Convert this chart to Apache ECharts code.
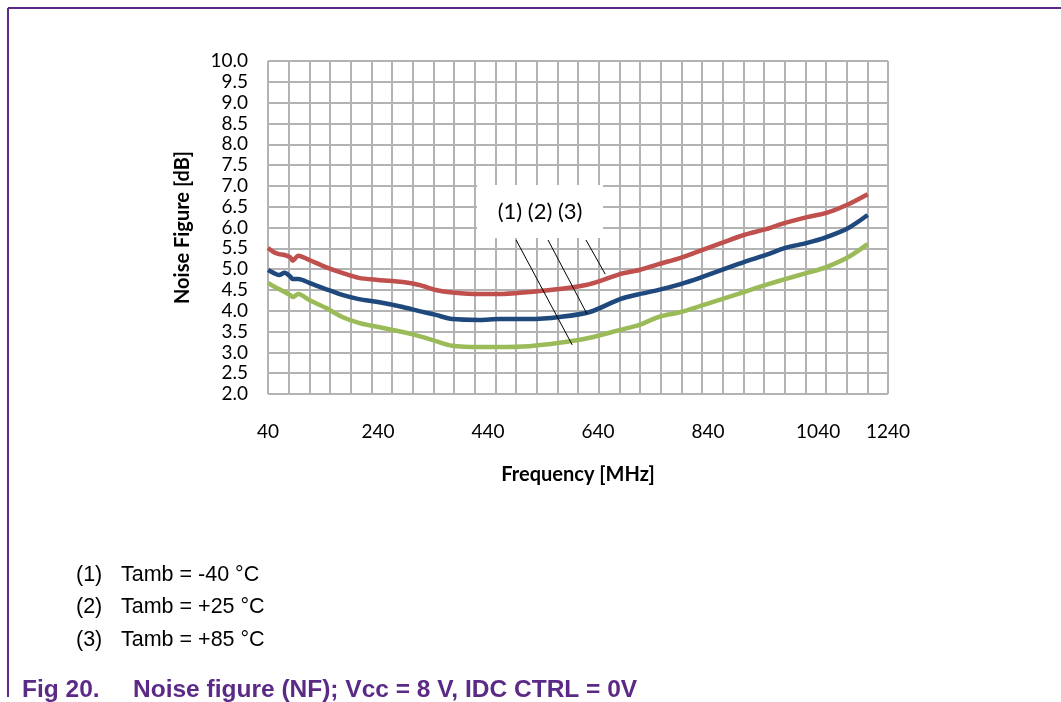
<!DOCTYPE html>
<html>
<head>
<meta charset="utf-8">
<script src="https://cdn.jsdelivr.net/npm/echarts@6/dist/echarts.min.js"></script>
<style>
html,body{margin:0;padding:0;background:#fff;}
#chart{width:1061px;height:702px;}
</style>
</head>
<body>
<div id="chart"></div>
<script>
// Frequency points (MHz, as read against the printed axis labels)
const FREQ = [40, 50, 60, 70, 80, 85, 95, 115, 145, 175, 205, 240, 285, 315, 345, 375, 425, 460, 515, 570, 625, 680, 715, 750, 790, 825, 865, 905, 945, 980, 1020, 1055, 1095, 1130];
// Noise figure (dB)
const NF_M40 = [4.67, 4.59, 4.52, 4.45, 4.38, 4.33, 4.40, 4.26, 4.07, 3.85, 3.71, 3.61, 3.49, 3.39, 3.27, 3.16, 3.13, 3.13, 3.15, 3.23, 3.35, 3.54, 3.66, 3.85, 3.97, 4.11, 4.28, 4.45, 4.62, 4.76, 4.91, 5.05, 5.29, 5.60];
const NF_P25 = [4.98, 4.91, 4.86, 4.91, 4.83, 4.76, 4.76, 4.67, 4.52, 4.38, 4.28, 4.21, 4.09, 3.99, 3.90, 3.80, 3.78, 3.80, 3.80, 3.85, 3.97, 4.28, 4.40, 4.50, 4.64, 4.79, 4.98, 5.17, 5.34, 5.51, 5.63, 5.77, 5.99, 6.30];
const NF_P85 = [5.51, 5.41, 5.36, 5.34, 5.29, 5.20, 5.32, 5.22, 5.05, 4.91, 4.79, 4.74, 4.69, 4.62, 4.50, 4.44, 4.40, 4.40, 4.45, 4.52, 4.64, 4.88, 4.98, 5.12, 5.27, 5.44, 5.63, 5.82, 5.96, 6.11, 6.25, 6.35, 6.56, 6.80];
// Axis settings / tick labels
const X_MIN = 40, X_MAX = 1167;
const X_LABELS = {40: '40', 240: '240', 440: '440', 640: '640', 840: '840', 1040: '1040'};
const X_END_LABEL = '1240';
const Y_MIN = 2, Y_MAX = 10;
const GRID_COLS = 30;
// Annotation
const NOTE_TEXT = '(1) (2) (3)';
const NOTE_BOX = [[420, 7.02], [649, 5.75]];
const LEADERS = [
  [[491, 5.70], [593, 3.18]],
  [[549, 5.70], [620, 3.92]],
  [[618, 5.70], [653, 4.88]]
];
const NOTES = ['(1)', '(2)', '(3)'];
const NOTE_DESC = ['Tamb = -40 °C', 'Tamb = +25 °C', 'Tamb = +85 °C'];
const CAPTION_NO = 'Fig 20.';
const CAPTION = 'Noise figure (NF); Vcc = 8 V, IDC CTRL = 0V';

const pairs = arr => FREQ.map((f, i) => [f, arr[i]]);
const PURPLE = '#5b2a86';
const GRID_COLOR = '#b3b3b3';

const graphics = [
  {type: 'line', shape: {x1: 8, y1: 8, x2: 1061, y2: 8}, style: {stroke: PURPLE, lineWidth: 2}},
  {type: 'line', shape: {x1: 8, y1: 8, x2: 8, y2: 697}, style: {stroke: PURPLE, lineWidth: 2}},
  {type: 'text', x: 22, y: 690, style: {text: CAPTION_NO, font: 'bold 24.5px "Liberation Sans", Arial', fill: PURPLE, verticalAlign: 'middle'}},
  {type: 'text', x: 133, y: 690, style: {text: CAPTION, font: 'bold 24.5px "Liberation Sans", Arial', fill: PURPLE, verticalAlign: 'middle'}}
];
NOTES.forEach((n, i) => {
  graphics.push({type: 'text', x: 76, y: 575 + i * 32.5, style: {text: n, font: '21.5px "Liberation Sans", Arial', fill: '#000', verticalAlign: 'middle'}});
  graphics.push({type: 'text', x: 121, y: 575 + i * 32.5, style: {text: NOTE_DESC[i], font: '21.5px "Liberation Sans", Arial', fill: '#000', verticalAlign: 'middle'}});
});

const chart = echarts.init(document.getElementById('chart'), null, {renderer: 'canvas'});
chart.setOption({
  animation: false,
  backgroundColor: '#fff',
  textStyle: {fontFamily: 'Lato'},
  grid: {left: 268, top: 61, right: 173, bottom: 308, containLabel: false},
  xAxis: [
    {
      type: 'value', min: X_MIN, max: X_MAX, interval: 40,
      axisLine: {show: false}, axisTick: {show: false}, splitLine: {show: false},
      axisLabel: {
        margin: 28, fontSize: 19, color: '#000', fontFamily: 'Lato',
        showMinLabel: true, showMaxLabel: true, hideOverlap: false,
        formatter: v => (v >= X_MAX ? X_END_LABEL : (X_LABELS[v] || ''))
      },
      name: 'Frequency [MHz]', nameLocation: 'middle', nameGap: 71,
      nameTextStyle: {fontSize: 20, fontWeight: 'bold', color: '#000', fontFamily: 'Lato'}
    },
    {
      type: 'value', min: 0, max: GRID_COLS, interval: 1, position: 'bottom',
      axisLine: {show: false}, axisTick: {show: false}, axisLabel: {show: false},
      splitLine: {show: true, lineStyle: {color: GRID_COLOR, width: 2}}
    }
  ],
  yAxis: {
    type: 'value', min: Y_MIN, max: Y_MAX, interval: 0.5,
    axisLine: {show: false}, axisTick: {show: false},
    splitLine: {show: true, lineStyle: {color: GRID_COLOR, width: 2}},
    axisLabel: {margin: 20, fontSize: 19, color: '#000', fontFamily: 'Lato', formatter: v => v.toFixed(1)},
    name: 'Noise Figure [dB]', nameLocation: 'middle', nameGap: 75,
    nameTextStyle: {fontSize: 20, fontWeight: 'bold', color: '#000', fontFamily: 'Lato'}
  },
  series: [
    {type: 'line', name: 'Tamb = -40 °C', data: pairs(NF_M40), xAxisIndex: 0, showSymbol: false, smooth: 0.3,
     lineStyle: {color: '#9bbb59', width: 4.5}, itemStyle: {color: '#9bbb59'}},
    {type: 'line', name: 'Tamb = +25 °C', data: pairs(NF_P25), xAxisIndex: 0, showSymbol: false, smooth: 0.3,
     lineStyle: {color: '#1f497d', width: 4.5}, itemStyle: {color: '#1f497d'}},
    {type: 'line', name: 'Tamb = +85 °C', data: pairs(NF_P85), xAxisIndex: 0, showSymbol: false, smooth: 0.3,
     lineStyle: {color: '#c0504d', width: 4.5}, itemStyle: {color: '#c0504d'},
     markArea: {
       silent: true,
       itemStyle: {color: '#fff', borderWidth: 0},
       label: {show: true, position: 'inside', formatter: NOTE_TEXT, fontSize: 22, color: '#000', fontFamily: 'Lato'},
       data: [[{coord: NOTE_BOX[0]}, {coord: NOTE_BOX[1]}]]
     },
     markLine: {
       silent: true, symbol: ['none', 'none'], animation: false,
       lineStyle: {color: '#000', width: 1, type: 'solid'},
       label: {show: false},
       data: LEADERS.map(l => [{coord: l[0]}, {coord: l[1]}])
     }}
  ],
  graphic: graphics
});
</script>
</body>
</html>
